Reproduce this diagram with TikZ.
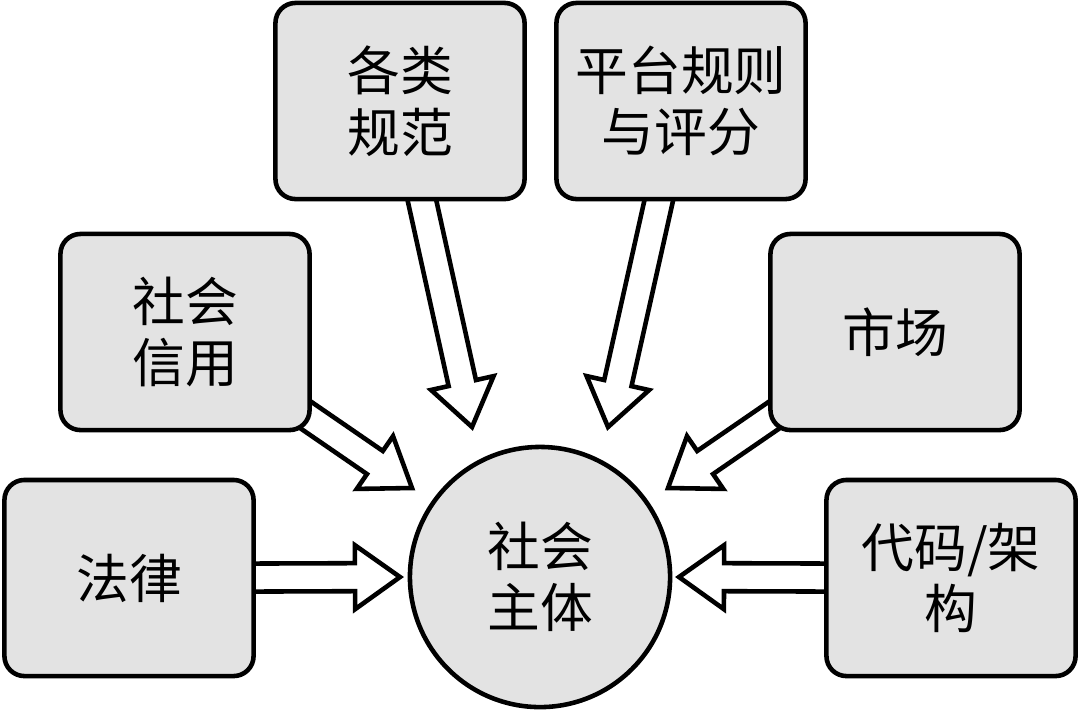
\documentclass[tikz,border=0pt]{standalone}
\usepackage{fontspec}
\newfontfamily\cjk{Noto Sans CJK SC}
\usetikzlibrary{calc, backgrounds}

\begin{document}
\begin{tikzpicture}[x=0.01cm, y=-0.01cm,
    box/.style={draw=black, line width=1.3pt, fill=gray!22, rounded corners=0.2cm,
        minimum width=2.49cm, minimum height=1.96cm, inner sep=0pt, align=center,
        font=\cjk\fontsize{15pt}{17.5pt}\selectfont},
    hub/.style={circle, draw=black, line width=1.3pt, fill=gray!22, minimum size=2.6cm,
        inner sep=0pt, align=center, font=\cjk\fontsize{15pt}{17.5pt}\selectfont},
    flow/.style={draw=black, fill=white, line width=1.3pt, line join=miter}]
    % picture coordinates in pixels of the 1080x711 layout, y pointing down
    \useasboundingbox (0,0) rectangle (1080,711);
    \def\sw{0.14cm}   % half width of the arrow shaft
    \def\hw{0.32cm}   % half width of the arrow head
    \def\hl{0.45cm}   % length of the arrow head

    % Central subject
    \node[hub] (subject) at (540,577) {社会\\主体};

    % Regulating forces around it
    \node[box] (law)      at (129,578) {法律};
    \node[box] (credit)   at (185,332) {社会\\信用};
    \node[box] (norms)    at (400,101) {各类\\规范};
    \node[box] (platform) at (681,101) {平台规则\\与评分};
    \node[box] (market)   at (895,332) {市场};
    \node[box] (code)     at (951,578) {代码/架\\构};

    % Arrow tips, just short of the circle
    \coordinate (t-law)      at (400,577);
    \coordinate (t-credit)   at (412,488);
    \coordinate (t-norms)    at (472,427);
    \coordinate (t-platform) at (608,427);
    \coordinate (t-market)   at (668,488);
    \coordinate (t-code)     at (679,577);

    % Hollow block arrows, from inside each box to its tip
    \begin{scope}[on background layer]
    \foreach \src in {law, credit, norms, platform, market, code} {
        \coordinate (hb) at ($(t-\src)!\hl!(\src.center)$);
        \draw[flow] ($(\src.center)!\sw!90:(t-\src)$) -- ($(hb)!\sw!90:(t-\src)$)
            -- ($(hb)!\hw!90:(t-\src)$) -- (t-\src) -- ($(hb)!\hw!-90:(t-\src)$)
            -- ($(hb)!\sw!-90:(t-\src)$) -- ($(\src.center)!\sw!-90:(t-\src)$) -- cycle;
    }
    \end{scope}
\end{tikzpicture}
\end{document}
